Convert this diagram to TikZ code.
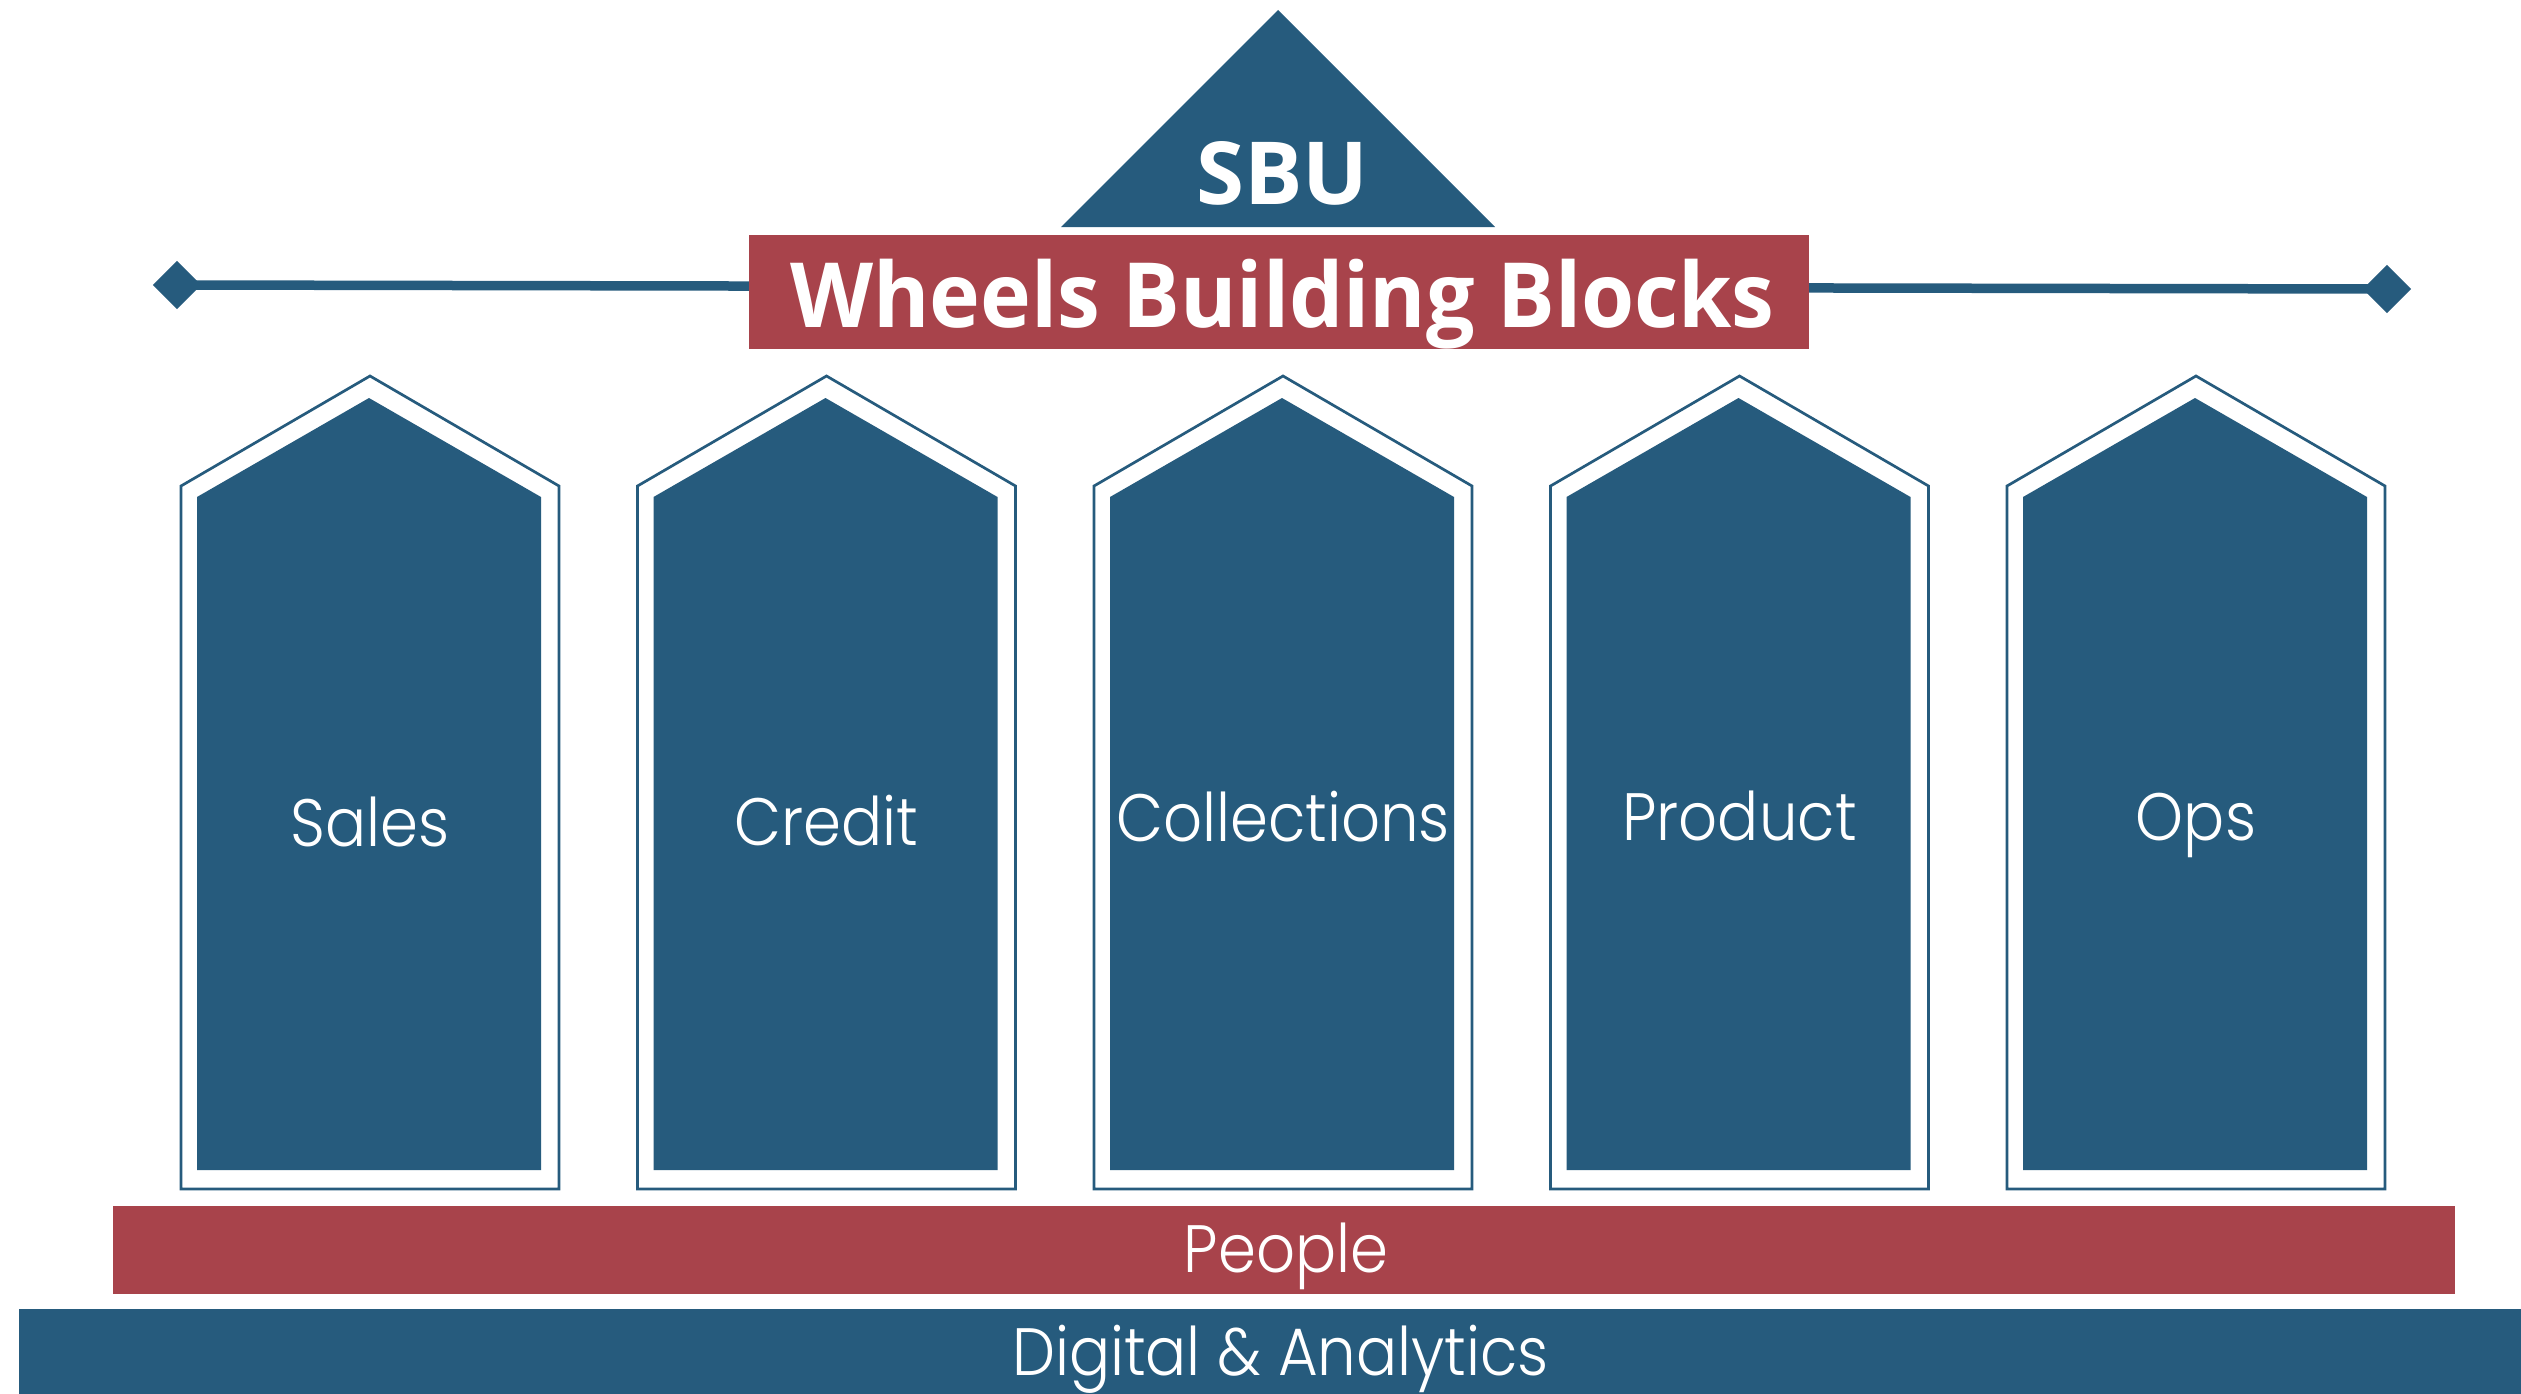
\documentclass[tikz,border=0pt]{standalone}
\usepackage{fontspec}
\setmainfont{Open Sans}
\newfontfamily\pillarfont{Poppins Light}
\definecolor{sbublue}{RGB}{38,91,125}
\definecolor{sbured}{RGB}{168,67,75}
\newcommand{\narrowtext}[1]{\scalebox{0.91}[1]{#1}}
\begin{document}
\begin{tikzpicture}[x=1pt,y=-1pt,
  lighttext/.style={text=white, anchor=base, inner sep=0pt, font=\pillarfont\fontsize{67}{67}\selectfont},
  boldtext/.style={text=white, anchor=base, inner sep=0pt, font=\bfseries\fontsize{90}{90}\selectfont},
  outline/.style={draw=sbublue, line width=2.7pt, fill=white},
  blockfill/.style={fill=sbublue},
  redfill/.style={fill=sbured},
  beam/.style={draw=sbublue, line width=9.5pt},
  endmark/.style={fill=sbublue, draw=none, minimum size=34pt, inner sep=0pt, rotate=45, rectangle}]
\useasboundingbox (0,0) rectangle (2521,1394);

% beam with diamond ends
\node[endmark] (dl) at (177,285) {};
\node[endmark] (dr) at (2387,289) {};
\draw[beam] (dl.center) -- (dr.center);

% roof triangle
\fill[sbublue] (1061,227) -- (1278,10) -- (1495,227) -- cycle;
\node[boldtext, font=\bfseries\fontsize{87}{87}\selectfont] (sbu) at (1282.5,204) {SBU};

% title box
\fill[redfill] (749,235) rectangle (1809,349);
\node[boldtext] (title) at (1282.5,327) {\scalebox{0.955}[1]{Wheels Building Blocks}};

% pillars
\foreach \k in {0,...,4}{
  \pgfmathsetmacro{\L}{181+456.5*\k}
  \draw[outline] (\L,1189) -- (\L,486) -- (\L+189,376) -- (\L+378,486) -- (\L+378,1189) -- cycle;
  \fill[blockfill] (\L+16,1170) -- (\L+16,497) -- (\L+188,398) -- (\L+360,497) -- (\L+360,1170) -- cycle;
}
\foreach \k/\nm/\lab/\bl in {0/sales/Sales/846, 1/credit/Credit/845, 2/collections/Collections/841, 3/product/Product/840, 4/ops/Ops/840}{
  \pgfmathsetmacro{\C}{370+456.5*\k}
  \node[lighttext] (\nm) at (\C,\bl) {\narrowtext{\lab}};
}

% bottom bars
\fill[redfill] (113,1206) rectangle (2455,1294);
\node[lighttext] (people) at (1286,1272) {\narrowtext{People}};
\fill[blockfill] (19,1309) rectangle (2521,1394);
\node[lighttext] (digital) at (1280.5,1375) {\narrowtext{Digital \& Analytics}};
\end{tikzpicture}
\end{document}
